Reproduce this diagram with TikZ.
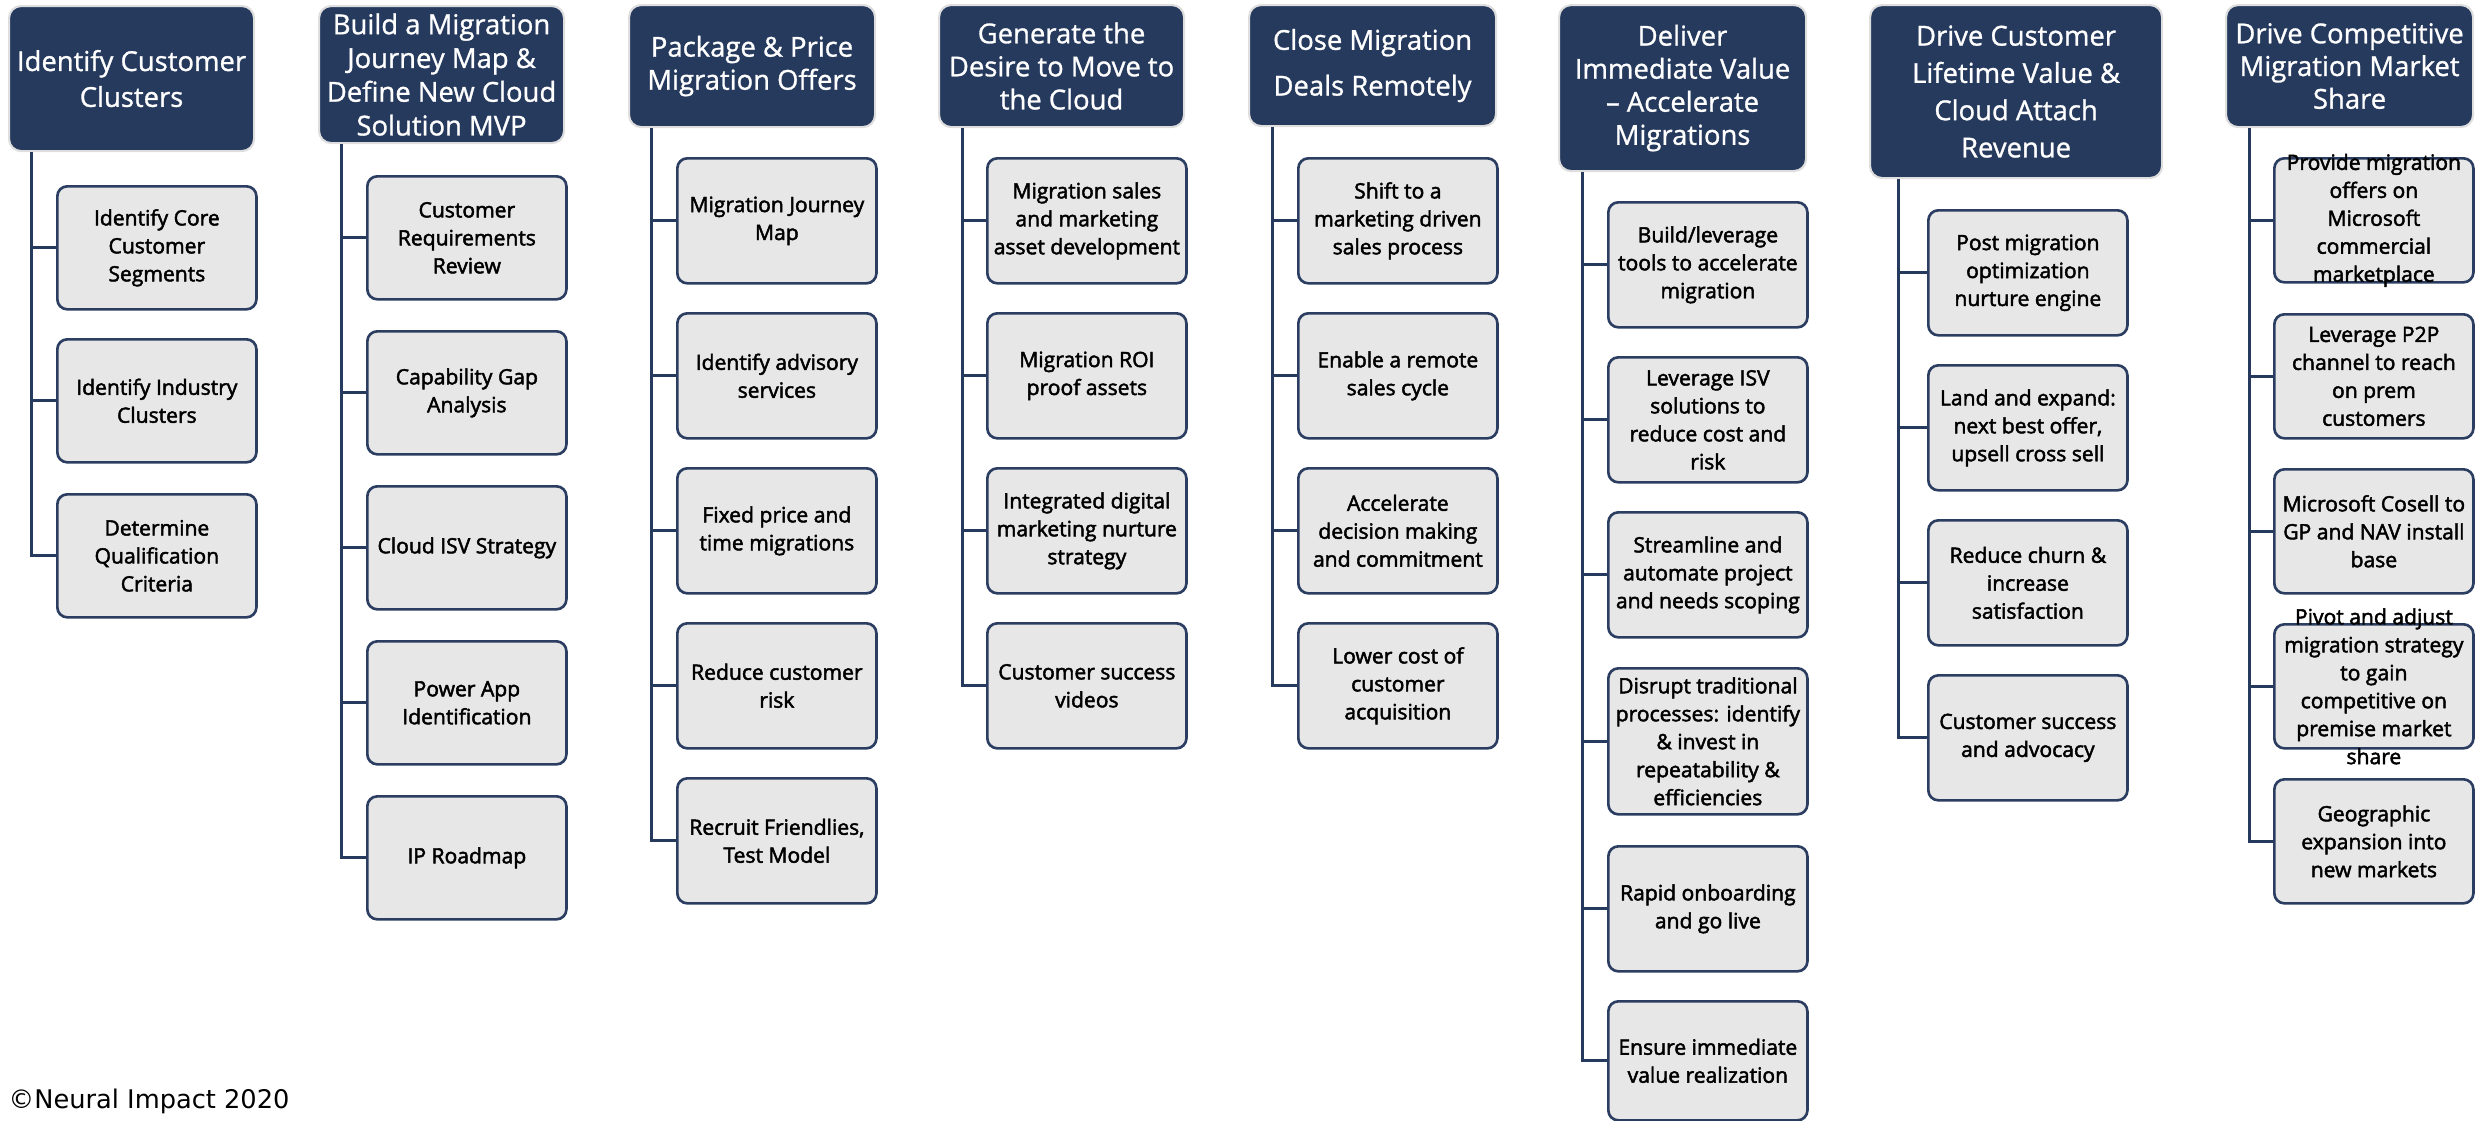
\documentclass[tikz,border=0pt]{standalone}
\usepackage{fontspec}
\setmainfont{Open Sans}
\newfontfamily\headfont{Open Sans}[FakeBold=1.0,Ligatures=TeX]
\newfontfamily\leaffont{Open Sans}[FakeBold=2.2,Ligatures=TeX]
\newfontfamily\notefont{DejaVu Sans}

\definecolor{navy}{RGB}{38,58,94}
\definecolor{leafgray}{RGB}{231,231,231}
\definecolor{edge}{RGB}{43,62,98}
\definecolor{halo}{RGB}{222,222,222}

\tikzset{
  headbox/.style={draw=halo, line width=0.6pt, fill=navy, rounded corners=0.12cm,
    anchor=north west, inner sep=0pt},
  headtext/.style={text=white, align=center, inner sep=0pt},
  leafbox/.style={draw=edge, line width=0.75pt, fill=leafgray, rounded corners=0.1cm,
    anchor=north west, inner sep=0pt, minimum width=1.99cm},
  leaftext/.style={align=center, inner sep=0pt, text=black,
    font=\leaffont\fontsize{6}{7.95}\selectfont},
  trunk/.style={draw=navy, line width=0.85pt},
}

% #1 name, #2 left, #3 top, #4 width, #5 height, #6 leading (pt), #7 text
\newcommand\headnode[7]{%
  \node[headbox, minimum width=#4*0.01cm, minimum height=#5*0.01cm] (#1) at (#2,#3) {};
  \node[headtext, font=\headfont\fontsize{7.8}{#6}\selectfont] (#1t) at (#1.center) {#7};}

% #1 name, #2 left, #3 top, #4 height, #5 text
\newcommand\leafnode[5]{%
  \node[leafbox, minimum height=#4*0.01cm] (#1) at (#2,#3) {};
  \node[leaftext] (#1t) at (#1.center) {#5};}

% #1 trunk coordinate, #2 leaf
\newcommand\branch[2]{\draw[trunk] (#1 |- #2.west) -- (#2.west);}

\begin{document}
\begin{tikzpicture}[x=0.01cm, y=-0.01cm]
\useasboundingbox (0,0) rectangle (2478,1121);

% ---------------- column 1
\headnode{h1}{8}{5}{245}{145}{10.2}{Identify Customer\\Clusters}
\leafnode{a1}{56}{185}{123}{Identify Core\\Customer\\Segments}
\leafnode{a2}{56}{338}{123}{Identify Industry\\Clusters}
\leafnode{a3}{56}{493}{123}{Determine\\Qualification\\Criteria}
\coordinate (k1) at ([xshift=0.23cm]h1.south west);
\draw[trunk] (k1) |- (a3.west);
\branch{k1}{a1}\branch{k1}{a2}

% ---------------- column 2
\headnode{h2}{318}{5}{245}{137}{9.6}{Build a Migration\\Journey Map \&\\Define New Cloud\\Solution MVP}
\leafnode{b1}{366}{175}{123}{Customer\\Requirements\\Review}
\leafnode{b2}{366}{330}{123}{Capability Gap\\Analysis}
\leafnode{b3}{366}{485}{123}{Cloud ISV Strategy}
\leafnode{b4}{366}{640}{123}{Power App\\Identification}
\leafnode{b5}{366}{795}{123}{IP Roadmap}
\coordinate (k2) at ([xshift=0.23cm]h2.south west);
\draw[trunk] (k2) |- (b5.west);
\branch{k2}{b1}\branch{k2}{b2}\branch{k2}{b3}\branch{k2}{b4}

% ---------------- column 3
\headnode{h3}{628}{4}{246}{122}{9.4}{Package \& Price\\Migration Offers}
\leafnode{c1}{676}{157}{125}{Migration Journey\\Map}
\leafnode{c2}{676}{312}{125}{Identify advisory\\services}
\leafnode{c3}{676}{467}{125}{Fixed price and\\time migrations}
\leafnode{c4}{676}{622}{125}{Reduce customer\\risk}
\leafnode{c5}{676}{777}{125}{Recruit Friendlies,\\Test Model}
\coordinate (k3) at ([xshift=0.23cm]h3.south west);
\draw[trunk] (k3) |- (c5.west);
\branch{k3}{c1}\branch{k3}{c2}\branch{k3}{c3}\branch{k3}{c4}

% ---------------- column 4
\headnode{h4}{938}{4}{245}{122}{9.4}{Generate the\\Desire to Move to\\the Cloud}
\leafnode{d1}{986}{157}{125}{Migration sales\\and marketing\\asset development}
\leafnode{d2}{986}{312}{125}{Migration ROI\\proof assets}
\leafnode{d3}{986}{467}{125}{Integrated digital\\marketing nurture\\strategy}
\leafnode{d4}{986}{622}{125}{Customer success\\videos}
\coordinate (k4) at ([xshift=0.24cm]h4.south west);
\draw[trunk] (k4) |- (d4.west);
\branch{k4}{d1}\branch{k4}{d2}\branch{k4}{d3}

% ---------------- column 5
\headnode{h5}{1248}{4}{247}{121}{13}{Close Migration\\Deals Remotely}
\leafnode{e1}{1297}{157}{125}{Shift to a\\marketing driven\\sales process}
\leafnode{e2}{1297}{312}{125}{Enable a remote\\sales cycle}
\leafnode{e3}{1297}{467}{125}{Accelerate\\decision making\\and commitment}
\leafnode{e4}{1297}{622}{125}{Lower cost of\\customer\\acquisition}
\coordinate (k5) at ([xshift=0.24cm]h5.south west);
\draw[trunk] (k5) |- (e4.west);
\branch{k5}{e1}\branch{k5}{e2}\branch{k5}{e3}

% ---------------- column 6
\headnode{h6}{1558}{4}{247}{166}{9.4}{Deliver\\Immediate Value\\– Accelerate\\Migrations}
\leafnode{f1}{1607}{201}{125}{Build/leverage\\tools to accelerate\\migration}
\leafnode{f2}{1607}{356}{125}{Leverage ISV\\solutions to\\reduce cost and\\risk}
\leafnode{f3}{1607}{511}{125}{Streamline and\\automate project\\and needs scoping}
\leafnode{f4}{1607}{667}{146}{Disrupt traditional\\processes: identify\\\& invest in\\repeatability \&\\efficiencies}
\leafnode{f5}{1607}{845}{125}{Rapid onboarding\\and go live}
\leafnode{f6}{1607}{1000}{119}{Ensure immediate\\value realization}
\coordinate (k6) at ([xshift=0.24cm]h6.south west);
\draw[trunk] (k6) |- (f6.west);
\branch{k6}{f1}\branch{k6}{f2}\branch{k6}{f3}\branch{k6}{f4}\branch{k6}{f5}

% ---------------- column 7
\headnode{h7}{1869}{4}{292}{173}{10.6}{Drive Customer\\Lifetime Value \&\\Cloud Attach\\Revenue}
\leafnode{g1}{1927}{209}{125}{Post migration\\optimization\\nurture engine}
\leafnode{g2}{1927}{364}{125}{Land and expand:\\next best offer,\\upsell cross sell}
\leafnode{g3}{1927}{519}{125}{Reduce churn \&\\increase\\satisfaction}
\leafnode{g4}{1927}{674}{125}{Customer success\\and advocacy}
\coordinate (k7) at ([xshift=0.29cm]h7.south west);
\draw[trunk] (k7) |- (g4.west);
\branch{k7}{g1}\branch{k7}{g2}\branch{k7}{g3}

% ---------------- column 8
\headnode{h8}{2225}{4}{247}{122}{9.3}{Drive Competitive\\Migration Market\\Share}
\leafnode{m1}{2273}{157}{124}{Provide migration\\offers on\\Microsoft\\commercial\\marketplace}
\leafnode{m2}{2273}{313}{124}{Leverage P2P\\channel to reach\\on prem\\customers}
\leafnode{m3}{2273}{468}{124}{Microsoft Cosell to\\GP and NAV install\\base}
\leafnode{m4}{2273}{623}{124}{Pivot and adjust\\migration strategy\\to gain\\competitive on\\premise market\\share}
\leafnode{m5}{2273}{778}{124}{Geographic\\expansion into\\new markets}
\coordinate (k8) at ([xshift=0.24cm]h8.south west);
\draw[trunk] (k8) |- (m5.west);
\branch{k8}{m1}\branch{k8}{m2}\branch{k8}{m3}\branch{k8}{m4}

% ---------------- footer
\node[anchor=west, inner sep=0pt, font=\notefont\fontsize{7.3}{9}\selectfont] (note) at (8,1101) {©Neural Impact 2020};
\end{tikzpicture}
\end{document}
